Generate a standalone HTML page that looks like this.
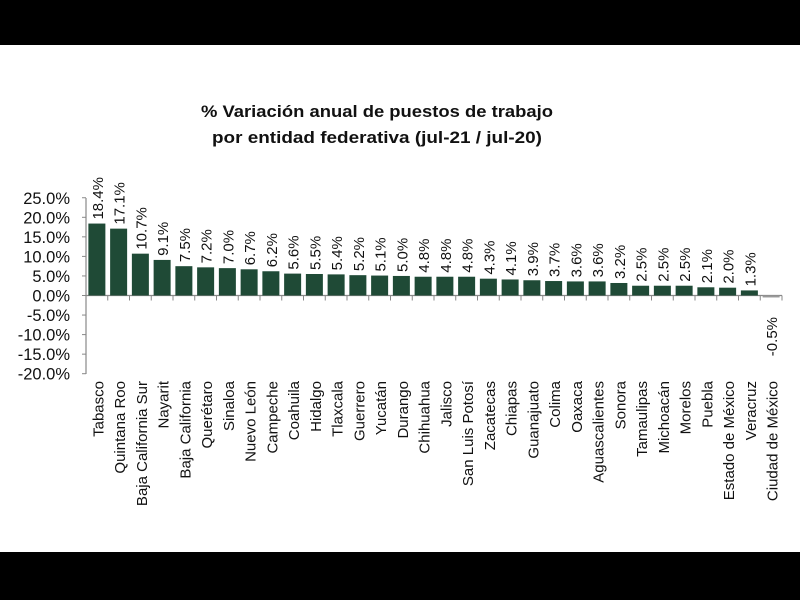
<!DOCTYPE html>
<html><head><meta charset="utf-8"><style>
html,body{margin:0;padding:0;background:#fff;}
svg{display:block;}
text{font-family:"Liberation Sans",sans-serif;fill:#111;}
</style></head><body>
<svg width="800" height="600" xmlns="http://www.w3.org/2000/svg">
<rect x="0" y="0" width="800" height="45" fill="#000"/>
<rect x="0" y="552" width="800" height="48" fill="#000"/>
<text x="377" y="117" text-anchor="middle" font-size="17" font-weight="bold" textLength="352" lengthAdjust="spacingAndGlyphs">% Variación anual de puestos de trabajo</text>
<text x="377" y="143" text-anchor="middle" font-size="17" font-weight="bold" textLength="330" lengthAdjust="spacingAndGlyphs">por entidad federativa (jul-21 / jul-20)</text>
<g id="chart"></g>
</svg>
<script>
(function(){
var names=["Tabasco","Quintana Roo","Baja California Sur","Nayarit","Baja California","Querétaro","Sinaloa","Nuevo León","Campeche","Coahuila","Hidalgo","Tlaxcala","Guerrero","Yucatán","Durango","Chihuahua","Jalisco","San Luis Potosí","Zacatecas","Chiapas","Guanajuato","Colima","Oaxaca","Aguascalientes","Sonora","Tamaulipas","Michoacán","Morelos","Puebla","Estado de México","Veracruz","Ciudad de México"];
var vals=[18.4,17.1,10.7,9.1,7.5,7.2,7.0,6.7,6.2,5.6,5.5,5.4,5.2,5.1,5.0,4.8,4.8,4.8,4.3,4.1,3.9,3.7,3.6,3.6,3.2,2.5,2.5,2.5,2.1,2.0,1.3,-0.5];
var lbl=["18.4%","17.1%","10.7%","9.1%","7.5%","7.2%","7.0%","6.7%","6.2%","5.6%","5.5%","5.4%","5.2%","5.1%","5.0%","4.8%","4.8%","4.8%","4.3%","4.1%","3.9%","3.7%","3.6%","3.6%","3.2%","2.5%","2.5%","2.5%","2.1%","2.0%","1.3%","-0.5%"];
var s="",x0=86,p=21.75,y0=295.5,k=3.91;
s+='<line x1="86" y1="198" x2="86" y2="374" stroke="#888" stroke-width="1.2"/>';
for(var i=0;i<10;i++){var v=25-5*i,y=y0-v*k;s+='<line x1="82" y1="'+y+'" x2="86" y2="'+y+'" stroke="#888"/>';
s+='<text x="70" y="'+(y+6)+'" text-anchor="end" font-size="16.5">'+v.toFixed(1)+'%</text>';}
s+='<line x1="86" y1="'+y0+'" x2="782" y2="'+y0+'" stroke="#888" stroke-width="1.2"/>';
for(var i=0;i<=32;i++){var x=x0+i*p;s+='<line x1="'+x+'" y1="'+y0+'" x2="'+x+'" y2="'+(y0+5)+'" stroke="#888"/>';}
for(var i=0;i<32;i++){var cx=x0+p*(i+0.5),v=vals[i],h=Math.abs(v)*k,bt=v>=0?y0-h:y0;
if(v>=0)s+='<rect x="'+(cx-8.5)+'" y="'+bt+'" width="17" height="'+h+'" fill="#1f4a36"/>';
else s+='<rect x="'+(cx-8.5)+'" y="'+y0+'" width="17" height="'+h+'" fill="#999"/>';
if(v>=0)s+='<text transform="translate('+(cx+6)+','+(bt-4)+') rotate(-90)" font-size="15">'+lbl[i]+'</text>';
else s+='<text transform="translate('+(cx+6)+',317) rotate(-90)" text-anchor="end" font-size="15">'+lbl[i]+'</text>';
s+='<text transform="translate('+(cx+6.5)+',381) rotate(-90)" text-anchor="end" font-size="15">'+names[i]+'</text>';}
document.getElementById("chart").innerHTML=s;
})();
</script>
</body></html>
